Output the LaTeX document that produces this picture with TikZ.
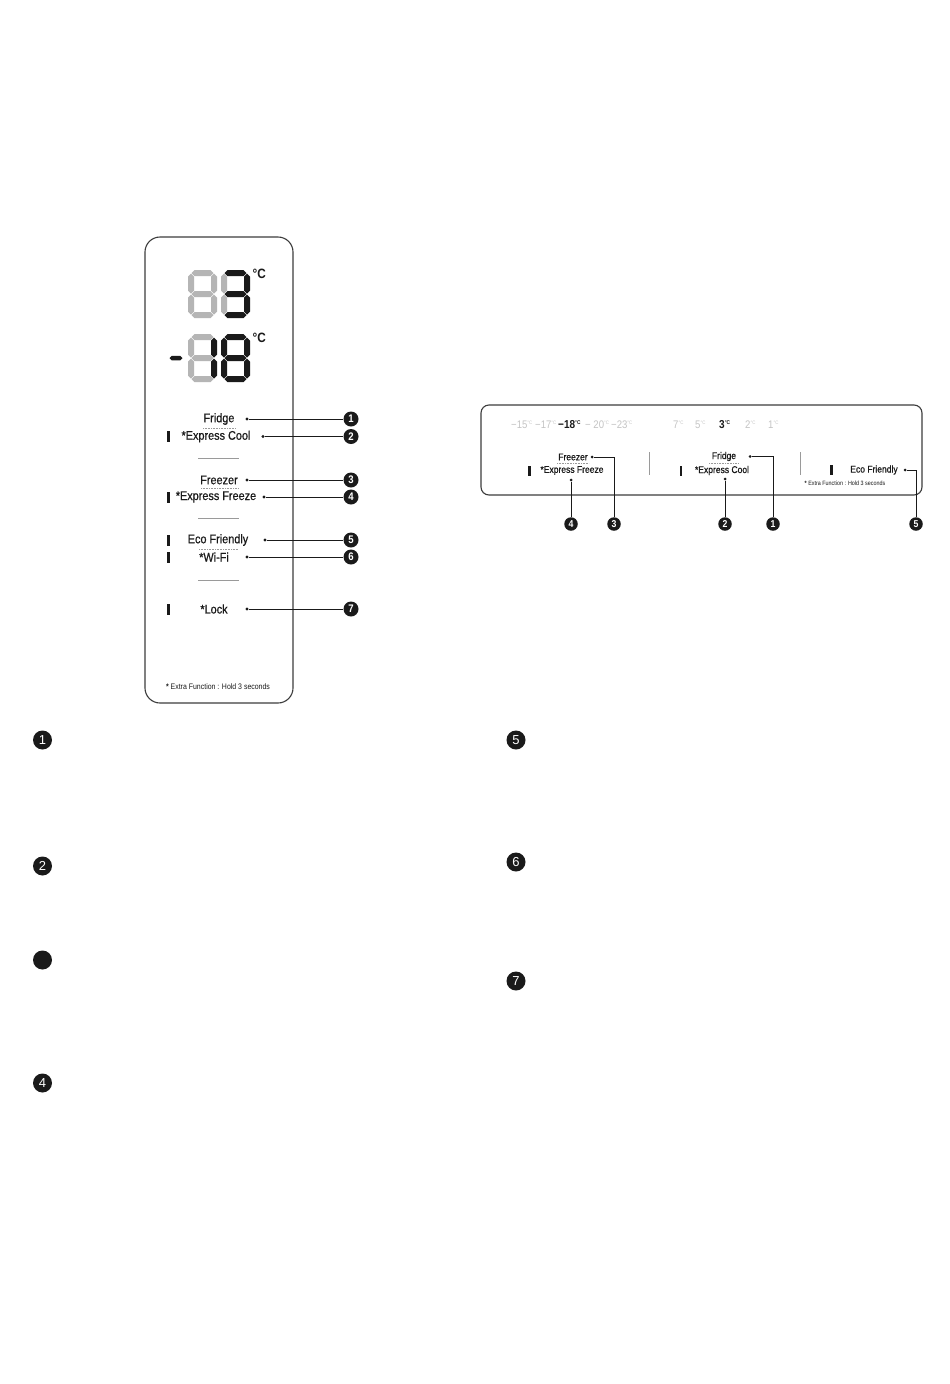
\documentclass[tikz,border=0pt]{standalone}
\usepackage{fontspec}
\setmainfont[FakeStretch=0.87]{Liberation Sans}
\newfontfamily\medfont[FakeStretch=0.87,FakeBold=0.6]{Liberation Sans}
\newfontfamily\plainsans{Liberation Sans}
\definecolor{ink}{HTML}{1A1A1A}
\definecolor{segoff}{HTML}{B5B5B5}
\definecolor{tempoff}{HTML}{C4C4C4}
\definecolor{rule}{HTML}{9A9A9A}
\newcommand{\hsg}[2]{\fill[#2] (3.5,#1) -- (6.5,#1-3) -- (22.5,#1-3) -- (25.5,#1) -- (22.5,#1+3) -- (6.5,#1+3) -- cycle;}
\newcommand{\vsg}[4]{\fill[#4] (#1,#2) -- (#1+3,#2+3) -- (#1+3,#3-3) -- (#1,#3) -- (#1-3,#3-3) -- (#1-3,#2+3) -- cycle;}
\newcommand{\sevenseg}[9]{\begin{scope}[shift={(#1,#2)}]
\hsg{3}{#3}\vsg{26}{3.5}{23.5}{#4}\vsg{26}{24.5}{44.5}{#5}\hsg{45}{#6}\vsg{3}{24.5}{44.5}{#7}\vsg{3}{3.5}{23.5}{#8}\hsg{24}{#9}\end{scope}}
\newcommand{\dg}{\textsuperscript{\fontsize{5}{5}\selectfont °C}}
\begin{document}
\begin{tikzpicture}[x=1pt,y=-1pt,
  lbl/.style={font=\medfont\fontsize{12.5}{14}\selectfont, text=ink, inner sep=0pt},
  rlbl/.style={font=\medfont\fontsize{9.8}{11}\selectfont, text=ink, inner sep=0pt},
  dotn/.style={circle, fill=ink, inner sep=0pt, minimum size=3.4pt},
  num/.style={circle, fill=ink, text=white, inner sep=0pt, minimum size=15pt, font=\bfseries\fontsize{11}{11}\selectfont},
  rnum/.style={circle, fill=ink, text=white, inner sep=0pt, minimum size=13.5pt, font=\bfseries\fontsize{10}{10}\selectfont},
  bnum/.style={circle, fill=ink, text=white, inner sep=0pt, minimum size=19pt, font=\plainsans\fontsize{13}{13}\selectfont},
  conn/.style={draw=ink, line width=1pt},
  dotline/.style={draw=rule, line width=0.7pt, dash pattern=on 0.8pt off 0.8pt},
  sep/.style={draw=rule, line width=0.8pt},
  bar/.style={fill=ink},
  panel/.style={draw=ink!85, line width=1.1pt},
  temp/.style={font=\fontsize{11}{12}\selectfont, text=tempoff, inner sep=0pt, anchor=west},
  tempon/.style={font=\bfseries\fontsize{11.5}{12}\selectfont, text=ink, inner sep=0pt, anchor=west}]
\useasboundingbox (0,0) rectangle (950,1384);
\fill[white] (0,0) rectangle (950,1384);

% ---------- left panel ----------
\draw[panel, rounded corners=15pt] (145,237) rectangle (293,703);
\sevenseg{188}{270}{segoff}{segoff}{segoff}{segoff}{segoff}{segoff}{segoff}
\sevenseg{221}{270}{ink}{ink}{ink}{ink}{segoff}{segoff}{ink}
\sevenseg{188}{334}{segoff}{ink}{ink}{segoff}{segoff}{segoff}{segoff}
\sevenseg{221}{334}{ink}{ink}{ink}{ink}{ink}{ink}{ink}
\fill[ink] (169.5,358) -- (171.75,355.75) -- (180.25,355.75) -- (182.5,358) -- (180.25,360.25) -- (171.75,360.25) -- cycle;
\node[font=\bfseries\fontsize{13.5}{14}\selectfont, text=ink, inner sep=0pt, anchor=north west] (degA) at (252.5,269) {°C};
\node[font=\bfseries\fontsize{13.5}{14}\selectfont, text=ink, inner sep=0pt, anchor=north west] (degB) at (252.5,333) {°C};

\node[lbl] (fridge) at (219,419) {Fridge};
\node[lbl] (xcool) at (216,436.5) {*Express Cool};
\node[lbl] (freezer) at (219,480) {Freezer};
\node[lbl] (xfreeze) at (216,497) {*Express Freeze};
\node[lbl] (eco) at (218,540) {Eco Friendly};
\node[lbl] (wifi) at (214,557) {*Wi-Fi};
\node[lbl] (lock) at (214,609) {*Lock};

\draw[dotline] (203,428) -- (236,428);
\draw[dotline] (201,488.5) -- (238,488.5);
\draw[dotline] (199,549) -- (238,549);

\draw[sep] (198,458) -- (239,458);
\draw[sep] (198,518.5) -- (239,518.5);
\draw[sep] (198,580) -- (239,580);

\foreach \yy in {436.5,497,540,557,609} \fill[bar] (166.5,\yy-5.5) rectangle (169.5,\yy+5.5);

\node[dotn] (d1) at (247,419) {};
\node[dotn] (d2) at (263,436.5) {};
\node[dotn] (d3) at (247,480) {};
\node[dotn] (d4) at (264,497) {};
\node[dotn] (d5) at (265,540) {};
\node[dotn] (d6) at (247,557) {};
\node[dotn] (d7) at (247,609) {};
\node[num] (n1) at (351,419) {1};
\node[num] (n2) at (351,436.5) {2};
\node[num] (n3) at (351,480) {3};
\node[num] (n4) at (351,497) {4};
\node[num] (n5) at (351,540) {5};
\node[num] (n6) at (351,557) {6};
\node[num] (n7) at (351,609) {7};
\foreach \i in {1,...,7} \draw[conn] (d\i) -- (n\i);

\node[font=\fontsize{8}{9}\selectfont, text=ink, inner sep=0pt] (noteL) at (218,687) {{\bfseries*} Extra Function : Hold 3 seconds};

% ---------- right panel ----------
\draw[panel, rounded corners=8pt] (481,405) rectangle (922,495);
\node[temp] (t15) at (511,424.5) {−15\dg};
\node[temp] (t17) at (535,424.5) {−17\dg};
\node[tempon] (t18) at (558,424.5) {−18\textsuperscript{\fontsize{5.5}{5.5}\selectfont °C}};
\node[temp] (t20) at (585,424.5) {− 20\dg};
\node[temp] (t23) at (611,424.5) {−23\dg};
\node[temp] (t7) at (673,424.5) {7\dg};
\node[temp] (t5) at (695,424.5) {5\dg};
\node[tempon] (t3) at (719,424.5) {3\textsuperscript{\fontsize{5.5}{5.5}\selectfont °C}};
\node[temp] (t2) at (745,424.5) {2\dg};
\node[temp] (t1) at (768,424.5) {1\dg};

\draw[sep] (649,452) -- (649,475);
\draw[sep] (800,452) -- (800,475);

\node[rlbl] (rfreezer) at (573,457) {Freezer};
\node[rlbl] (rxfreeze) at (572,470.5) {*Express Freeze};
\node[rlbl] (rfridge) at (724,456.5) {Fridge};
\node[rlbl] (rxcool) at (722,470.5) {*Express Cool};
\node[rlbl] (reco) at (874,470) {Eco Friendly};
\node[font=\fontsize{6.2}{7}\selectfont, text=ink, inner sep=0pt] (noteR) at (845,483) {{\bfseries*} Extra Function : Hold 3 seconds};

\draw[dotline] (557,463.5) -- (589,463.5);
\draw[dotline] (709,463.5) -- (739,463.5);

\fill[bar] (528,465.5) rectangle (530.5,475.5);
\fill[bar] (679.5,465.5) rectangle (682,475.5);
\fill[bar] (830,465) rectangle (832.5,475);

\node[dotn, minimum size=3pt] (rd3) at (592,457) {};
\node[dotn, minimum size=3pt] (rd4) at (571,480) {};
\node[dotn, minimum size=3pt] (rd1) at (750,456.5) {};
\node[dotn, minimum size=3pt] (rd2) at (725,479) {};
\node[dotn, minimum size=3pt] (rd5) at (905,470) {};
\node[rnum] (rn4) at (571,524) {4};
\node[rnum] (rn3) at (614,524) {3};
\node[rnum] (rn2) at (725,524) {2};
\node[rnum] (rn1) at (773,524) {1};
\node[rnum] (rn5) at (916,524) {5};
\draw[conn] (rd3) -| (rn3);
\draw[conn] (rd4) -- (rn4);
\draw[conn] (rd1) -| (rn1);
\draw[conn] (rd2) -- (rn2);
\draw[conn] (rd5) -| (rn5);

% ---------- description markers ----------
\node[bnum] (b1) at (42.5,740) {1};
\node[bnum] (b2) at (42.5,866) {2};
\node[bnum] (b3) at (42.5,960) {};
\node[bnum] (b4) at (42.5,1083) {4};
\node[bnum] (b5) at (516,740) {5};
\node[bnum] (b6) at (516,862) {6};
\node[bnum] (b7) at (516,981) {7};
\end{tikzpicture}
\end{document}
